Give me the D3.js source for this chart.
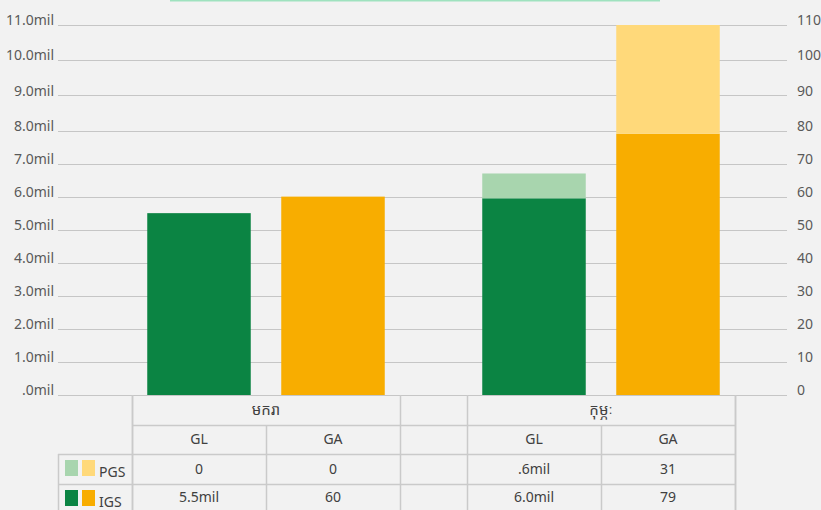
<!DOCTYPE html>
<html>
<head>
<meta charset="utf-8">
<script src="https://cdn.jsdelivr.net/npm/d3@7"></script>
<style>
  body { margin: 0; background: #f2f2f2; }
  svg { display: block; font-family: "Noto Sans", "Noto Sans Khmer", "DejaVu Sans", sans-serif; }
</style>
</head>
<body>
<svg id="chart"></svg>
<script>
// months (Khmer) and the two measures per month
const months = ['មករា', 'កុម្ភៈ']
const measures = ['GL', 'GA']
const seriesNames = ['PGS', 'IGS']

// GL in millions (left axis), GA as counts (right axis)
const glIGS = [5.5, 5.95]
const glPGS = [0, 0.75]
const gaIGS = [60, 79]
const gaPGS = [0, 31]

// table text as printed under the bars
const pgsLabels = ['0', '0', '.6mil', '31']
const igsLabels = ['5.5mil', '60', '6.0mil', '79']

const leftTicks = d3.range(0, 12)
const rightTicks = d3.range(0, 120, 10)

const colors = {
  GL: { IGS: '#0b8443', PGS: '#a8d5ae' },
  GA: { IGS: '#f8ad00', PGS: '#ffd97a' }
}

const canvasWidth = 821,
    canvasHeight = 510

const plot = { left: 58, right: 787, bottom: 395 }
const table = { left: 132, right: 735, legendLeft: 58 }
const rows = [395, 425, 454, 484, 540]

const svg = d3.select('#chart')
    .attr('width', canvasWidth)
    .attr('height', canvasHeight)

svg.append('rect')
    .attr('width', canvasWidth)
    .attr('height', canvasHeight)
    .attr('fill', '#f2f2f2')

// thin strip left over from the title box above
svg.append('rect')
    .attr('x', 170).attr('y', 0)
    .attr('width', 490).attr('height', 1.5)
    .attr('fill', '#9fe2bf')

// the picture's value axis is not quite even; follow it piecewise
const yLeft = d3.scaleLinear().domain([0, 8, 11]).range([plot.bottom, 130.5, 25])
const yRight = d3.scaleLinear().domain([0, 80, 110]).range([plot.bottom, 130.5, 25])

const xMonth = d3.scaleBand()
    .domain(months)
    .range([table.left, table.right])
    .paddingInner(0.2)

const xMeasure = d3.scaleBand()
    .domain(measures)
    .range([0, xMonth.bandwidth()])

const barWidth = 103.5

// gridlines
svg.append('g')
    .selectAll('line')
    .data(leftTicks)
    .join('line')
    .attr('x1', plot.left)
    .attr('x2', plot.right)
    .attr('y1', d => Math.round(yLeft(d)) + 0.5)
    .attr('y2', d => Math.round(yLeft(d)) + 0.5)
    .attr('stroke', '#c6c6c6')
    .attr('stroke-width', 1)

const fmtMil = d => (d === 0 ? '.0' : d.toFixed(1)) + 'mil'

const leftAxis = svg.append('g')
    .attr('transform', 'translate(54,0)')
    .call(d3.axisLeft(yLeft).tickValues(leftTicks).tickFormat(fmtMil).tickSize(0).tickPadding(0))
leftAxis.select('.domain').remove()
leftAxis.selectAll('text')
    .attr('dy', '-0.02em')
    .style('font-size', '14px')
    .style('fill', '#595959')
    .style('font-family', '"Noto Sans", sans-serif')

const rightAxis = svg.append('g')
    .attr('transform', 'translate(797,0)')
    .call(d3.axisRight(yRight).tickValues(rightTicks).tickSize(0).tickPadding(0))
rightAxis.select('.domain').remove()
rightAxis.selectAll('text')
    .attr('dy', '-0.02em')
    .style('font-size', '14px')
    .style('fill', '#595959')
    .style('font-family', '"Noto Sans", sans-serif')

// stacked bars
const bars = []
months.forEach((m, i) => {
  bars.push({ month: m, measure: 'GL', scale: yLeft, igs: glIGS[i], pgs: glPGS[i] })
  bars.push({ month: m, measure: 'GA', scale: yRight, igs: gaIGS[i], pgs: gaPGS[i] })
})

const barG = svg.append('g')
    .selectAll('g')
    .data(bars)
    .join('g')
    .attr('transform', d => `translate(${xMonth(d.month) + xMeasure(d.measure) + (xMeasure.bandwidth() - barWidth) / 2}, 0)`)

barG.append('rect')
    .attr('width', barWidth)
    .attr('y', d => d.scale(d.igs))
    .attr('height', d => d.scale(0) - d.scale(d.igs))
    .attr('fill', d => colors[d.measure].IGS)

barG.filter(d => d.pgs > 0)
    .append('rect')
    .attr('width', barWidth)
    .attr('y', d => d.scale(d.igs + d.pgs))
    .attr('height', d => d.scale(d.igs) - d.scale(d.igs + d.pgs))
    .attr('fill', d => colors[d.measure].PGS)

// data table underneath
const tableG = svg.append('g')
    .attr('stroke', '#cacaca')
    .attr('stroke-width', 1.5)

const px = v => Math.round(v) + 0.5

// horizontal rules
tableG.append('line')
    .attr('x1', table.left).attr('x2', table.right)
    .attr('y1', px(rows[1])).attr('y2', px(rows[1]))
tableG.append('line')
    .attr('x1', table.legendLeft).attr('x2', table.right)
    .attr('y1', px(rows[2])).attr('y2', px(rows[2]))
tableG.append('line')
    .attr('x1', table.legendLeft).attr('x2', table.right)
    .attr('y1', px(rows[3])).attr('y2', px(rows[3]))

// vertical rules
const fullCols = [table.left, table.right]
months.forEach(m => {
  fullCols.push(xMonth(m), xMonth(m) + xMonth.bandwidth())
})
tableG.selectAll('line.full')
    .data(fullCols)
    .join('line')
    .attr('class', 'full')
    .attr('x1', d => px(d)).attr('x2', d => px(d))
    .attr('y1', rows[0]).attr('y2', canvasHeight)

tableG.selectAll('line.mid')
    .data(months)
    .join('line')
    .attr('class', 'mid')
    .attr('x1', d => px(xMonth(d) + xMeasure('GA'))).attr('x2', d => px(xMonth(d) + xMeasure('GA')))
    .attr('y1', rows[1]).attr('y2', canvasHeight)

tableG.append('line')
    .attr('x1', px(table.legendLeft)).attr('x2', px(table.legendLeft))
    .attr('y1', rows[2]).attr('y2', canvasHeight)

const textG = svg.append('g')
    .style('font-size', '14px')
    .style('fill', '#404040')
    .attr('text-anchor', 'middle')

textG.selectAll('text.month')
    .data(months)
    .join('text')
    .attr('class', 'month')
    .attr('x', d => xMonth(d) + xMonth.bandwidth() / 2)
    .attr('y', (rows[0] + rows[1]) / 2)
    .attr('dy', '0.35em')
    .style('font-size', '15px')
    .text(d => d)

const cells = []
months.forEach((m, i) => {
  measures.forEach((g, j) => {
    cells.push({ month: m, measure: g, pgs: pgsLabels[i * 2 + j], igs: igsLabels[i * 2 + j] })
  })
})

const cellX = d => xMonth(d.month) + xMeasure(d.measure) + xMeasure.bandwidth() / 2

textG.selectAll('text.measure')
    .data(cells)
    .join('text')
    .attr('class', 'measure')
    .attr('x', cellX)
    .attr('y', (rows[1] + rows[2]) / 2)
    .attr('dy', '0.35em')
    .text(d => d.measure)

textG.selectAll('text.pgs')
    .data(cells)
    .join('text')
    .attr('class', 'pgs')
    .attr('x', cellX)
    .attr('y', (rows[2] + rows[3]) / 2)
    .attr('dy', '0.35em')
    .text(d => d.pgs)

textG.selectAll('text.igs')
    .data(cells)
    .join('text')
    .attr('class', 'igs')
    .attr('x', cellX)
    .attr('y', rows[3] + 13.5)
    .attr('dy', '0.35em')
    .text(d => d.igs)

// legend keys in the first column
const legend = svg.append('g')
    .selectAll('g')
    .data(seriesNames)
    .join('g')
    .attr('transform', (d, i) => `translate(65, ${rows[2 + i] + 6})`)

legend.selectAll('rect')
    .data(s => measures.map(g => colors[g][s]))
    .join('rect')
    .attr('x', (d, i) => i * 17)
    .attr('width', 13)
    .attr('height', 16)
    .attr('fill', d => d)

legend.append('text')
    .attr('x', 34)
    .attr('y', 17)
    .style('font-size', '14px')
    .style('fill', '#404040')
    .text(d => d)
</script>
</body>
</html>
